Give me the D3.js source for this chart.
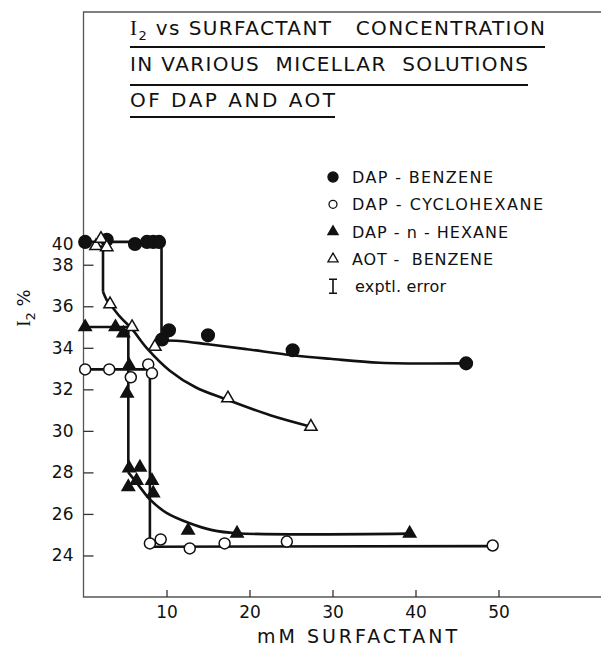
<!DOCTYPE html>
<head>
    <meta charset="utf-8">
    <style>
        body { margin: 0; background: #fff; }
        text { font-family: "DejaVu Sans", "Liberation Sans", sans-serif; fill: #111; }
        .serif { font-family: "Liberation Serif", serif; }
        .fit { fill: none; stroke: #111; stroke-width: 2.6px; }
        .frame { stroke: #555; stroke-width: 1.3px; fill: none; }
        .axis path { display: none; }
        .axis line { stroke: #333; stroke-width: 1.3px; }
        .axis text { font-family: "DejaVu Sans", sans-serif; font-size: 17px; fill: #111; }
    </style>
</head>

<body>
    <script src="https://d3js.org/d3.v7.min.js"></script>

    <script>
        var width = 601,
            height = 654;

        // tick values (the "40" label sits level with the top points in the original)
        var xTicks = [10, 20, 30, 40, 50];
        var yTicks = [24, 26, 28, 30, 32, 34, 36, 38];
        var yTopLabel = {value: 38.95, text: "40"};

        // measured points, [mM surfactant, I2 %]
        var dapBenzene = [[0.2, 39.1], [2.8, 39.2], [6.2, 39.0], [7.65, 39.1], [8.4, 39.1], [9.1, 39.1],
            [9.46, 34.4], [10.3, 34.84], [15.0, 34.6], [25.2, 33.88], [46.1, 33.25]];
        var dapCyclohexane = [[0.2, 32.96], [3.1, 32.96], [5.7, 32.58], [7.8, 33.2], [8.25, 32.77],
            [8.0, 24.58], [9.3, 24.77], [12.8, 24.34], [17.0, 24.58], [24.5, 24.67], [49.3, 24.48]];
        var dapHexane = [[0.2, 35.0], [3.85, 35.0], [4.8, 34.7], [5.5, 33.15], [5.25, 31.8],
            [5.5, 28.2], [6.8, 28.24], [6.4, 27.6], [5.4, 27.3], [8.25, 27.6], [8.4, 27.0],
            [12.6, 25.2], [18.5, 25.06], [39.3, 25.06]];
        var aotBenzene = [[1.5, 38.9], [2.1, 39.25], [2.8, 38.85], [3.2, 36.1], [5.85, 35.0],
            [8.6, 34.05], [17.4, 31.57], [27.4, 30.2]];

        // hand-drawn guide lines (step part + smooth part)
        var benzeneStep = [[0, 39.1], [9.4, 39.1], [9.4, 34.35]];
        var benzeneCurve = [[9.4, 34.35], [11.6, 34.33], [15, 34.17], [19.7, 33.93], [25.2, 33.64],
            [29.7, 33.47], [35.7, 33.28], [46, 33.25]];
        var cyclohexaneStep = [[0, 32.96], [8.0, 32.96], [8.0, 24.42], [49.3, 24.45]];
        var hexaneStep = [[0, 35.0], [5.4, 35.0], [5.4, 28.0]];
        var hexaneCurve = [[5.4, 28.0], [6.6, 27.4], [8.0, 26.7], [10, 26.05], [12.8, 25.55],
            [15.5, 25.22], [18.5, 25.07], [39.3, 25.05]];
        var aotStep = [[1.5, 38.88], [2.35, 38.88], [2.35, 36.7]];
        var aotCurve = [[2.35, 36.7], [2.8, 36.3], [3.2, 36.1], [4.5, 35.45], [5.85, 34.9], [7.6, 34.0],
            [10.4, 32.9], [13.5, 32.1], [17.3, 31.5], [22.5, 30.75], [27.4, 30.2]];

        var titleLines = ["I|2| vs SURFACTANT   CONCENTRATION", "IN VARIOUS  MICELLAR  SOLUTIONS", "OF DAP AND AOT"];
        var legendLabels = ["DAP - BENZENE", "DAP - CYCLOHEXANE", "DAP - n - HEXANE", "AOT -  BENZENE", "exptl. error"];

        var x = d3.scaleLinear().domain([0, 62.35]).range([83.5, 601]);
        var y = d3.scaleLinear().domain([22, 50.17]).range([597, 12]);

        var svg = d3.select("body").append("svg")
            .attr("width", width)
            .attr("height", height);

        //frame: top and left border, bottom axis line
        svg.append("path").attr("class", "frame")
            .attr("d", "M601," + y.range()[1] + "H" + x(0) + "V" + y.range()[0] + "H601");

        //y axis, ticks point inward
        svg.append("g")
            .attr("class", "axis")
            .attr("transform", "translate(" + x(0) + ",0)")
            .call(d3.axisLeft(y).tickValues(yTicks).tickSizeInner(-10).tickSizeOuter(0).tickPadding(10));

        svg.append("text")
            .attr("x", x(0) - 10).attr("y", y(yTopLabel.value))
            .attr("dy", "0.32em")
            .style("text-anchor", "end")
            .style("font-size", "17px")
            .text(yTopLabel.text);

        //x axis
        svg.append("g")
            .attr("class", "axis")
            .attr("transform", "translate(0," + y(22) + ")")
            .call(d3.axisBottom(x).tickValues(xTicks).tickSizeInner(-7).tickSizeOuter(0).tickPadding(9));

        // axis titles
        svg.append("text")
            .attr("x", 357).attr("y", 643)
            .style("text-anchor", "middle")
            .style("font-size", "19px")
            .attr("textLength", 200)
            .attr("lengthAdjust", "spacing")
            .text("mM SURFACTANT");

        var yl = svg.append("text")
            .attr("transform", "translate(30,308) rotate(-90)")
            .style("text-anchor", "middle")
            .style("font-size", "18px");
        yl.append("tspan").attr("class", "serif").style("font-size", "19px").text("I");
        yl.append("tspan").attr("dy", 5).style("font-size", "13px").text("2");
        yl.append("tspan").attr("dy", -5).text(" %");

        //title, underlined
        var titleWidths = [415, 398, 205];
        titleLines.forEach(function(t, i) {
            var by = [35, 71, 107][i];
            var txt = svg.append("text")
                .attr("x", 130).attr("y", by)
                .style("font-size", "20px")
                .attr("textLength", titleWidths[i])
                .attr("lengthAdjust", "spacing")
                .attr("xml:space", "preserve");
            t.split("|").forEach(function(part, j) {
                var ts = txt.append("tspan").text(part);
                if (j == 0 && i == 0) ts.attr("class", "serif").style("font-size", "21px");
                if (j == 1) ts.attr("dy", 5).style("font-size", "13px");
                if (j == 2) ts.attr("dy", -5);
            });
            svg.append("line")
                .attr("x1", 130).attr("x2", 130 + titleWidths[i])
                .attr("y1", [47, 85, 117][i]).attr("y2", [47, 85, 117][i])
                .attr("stroke", "#111").attr("stroke-width", 1.8);
        });

        //fit lines
        var stepLine = d3.line().x(function(d) { return x(d[0]); }).y(function(d) { return y(d[1]); });
        var smoothLine = d3.line().curve(d3.curveCatmullRom.alpha(0.5))
            .x(function(d) { return x(d[0]); }).y(function(d) { return y(d[1]); });

        [benzeneStep, cyclohexaneStep, hexaneStep, aotStep].forEach(function(s) {
            svg.append("path").datum(s).attr("class", "fit").attr("d", stepLine);
        });
        [benzeneCurve, hexaneCurve, aotCurve].forEach(function(s) {
            svg.append("path").datum(s).attr("class", "fit").attr("d", smoothLine);
        });

        //markers
        var series = [
            {data: dapBenzene, sym: d3.symbol().type(d3.symbolCircle).size(125)(), fill: "#111"},
            {data: dapCyclohexane, sym: d3.symbol().type(d3.symbolCircle).size(95)(), fill: "#fff"},
            {data: dapHexane, sym: d3.symbol().type(d3.symbolTriangle).size(66)(), fill: "#111"},
            {data: aotBenzene, sym: d3.symbol().type(d3.symbolTriangle).size(66)(), fill: "#fff"}
        ];

        series.forEach(function(s) {
            svg.append("g").selectAll("path")
                .data(s.data)
                .enter().append("path")
                .attr("d", s.sym)
                .attr("transform", function(d) { return "translate(" + x(d[0]) + "," + y(d[1]) + ")"; })
                .attr("fill", s.fill)
                .attr("stroke", "#111")
                .attr("stroke-width", 1.5);
        });

        //legend
        var legendWidths = [141, 191, 156, 141, 91];
        var legendSyms = [
            d3.symbol().type(d3.symbolCircle).size(80)(),
            d3.symbol().type(d3.symbolCircle).size(50)(),
            d3.symbol().type(d3.symbolTriangle).size(45)(),
            d3.symbol().type(d3.symbolTriangle).size(45)(),
            "M-4,-7H4M0,-7V7M-4,7H4"
        ];
        var legendFills = ["#111", "#fff", "#111", "#fff", "none"];

        legendLabels.forEach(function(l, i) {
            var cy = 177 + i * 27.3;
            svg.append("path")
                .attr("d", legendSyms[i])
                .attr("transform", "translate(333," + cy + ")")
                .attr("fill", legendFills[i])
                .attr("stroke", "#111")
                .attr("stroke-width", i == 4 ? 1.6 : 1.3);
            svg.append("text")
                .attr("x", i == 4 ? 355 : 352)
                .attr("y", cy + 6)
                .style("font-size", "16px")
                .attr("textLength", legendWidths[i])
                .attr("lengthAdjust", "spacing")
                .attr("xml:space", "preserve")
                .text(l);
        });
    </script>
</body>
